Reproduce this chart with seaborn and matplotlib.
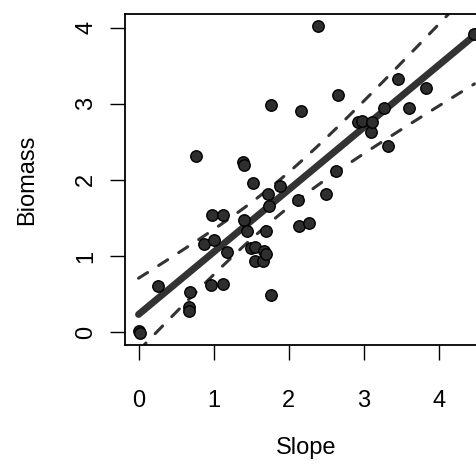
import numpy as np
import pandas as pd
import matplotlib
matplotlib.use("Agg")
import matplotlib.pyplot as plt
import seaborn as sns

# valeurs
slope = [0.00, 0.02, 0.26, 0.67, 0.67, 0.69, 0.77, 0.87, 0.96, 0.98,
         1.01, 1.12, 1.12, 1.18, 1.39, 1.40, 1.40, 1.44, 1.50, 1.52,
         1.55, 1.55, 1.66, 1.67, 1.69, 1.70, 1.72, 1.73, 1.76, 1.76,
         1.88, 2.12, 2.14, 2.16, 2.27, 2.39, 2.49, 2.63, 2.66, 2.92,
         2.98, 3.09, 3.10, 3.26, 3.32, 3.45, 3.60, 3.83, 4.47]
biomass = [0.01, -0.01, 0.60, 0.33, 0.28, 0.53, 2.31, 1.16, 0.62, 1.54,
           1.21, 1.54, 0.63, 1.05, 2.23, 2.19, 1.47, 1.33, 1.11, 1.96,
           1.12, 0.93, 0.93, 1.07, 1.33, 1.03, 1.81, 1.66, 2.98, 0.49,
           1.92, 1.74, 1.39, 2.90, 1.43, 4.02, 1.81, 2.12, 3.11, 2.76,
           2.78, 2.63, 2.76, 2.94, 2.45, 3.32, 2.94, 3.21, 3.92]
x_ticks = [0, 1, 2, 3, 4]
y_ticks = [0, 1, 2, 3, 4]

T_CRIT = 2.685  # quantile t a 99 %, ddl = 47
DARK = "#333333"


def fit_band(x, y, grid):
    """Droite des moindres carres et intervalle de confiance de la moyenne."""
    X = np.column_stack([np.ones_like(x), x])
    beta, *_ = np.linalg.lstsq(X, y, rcond=None)
    resid = y - X @ beta
    s2 = resid @ resid / (len(x) - 2)
    xbar = x.mean()
    sxx = ((x - xbar) ** 2).sum()
    fit = beta[0] + beta[1] * grid
    se = np.sqrt(s2 * (1 / len(x) + (grid - xbar) ** 2 / sxx))
    return fit, fit - T_CRIT * se, fit + T_CRIT * se


def main():
    sns.set_style("white")
    plt.rcParams["font.family"] = ["Liberation Sans", "DejaVu Sans"]
    plt.rcParams["text.color"] = "black"
    plt.rcParams["axes.labelcolor"] = "black"
    plt.rcParams["xtick.color"] = "black"
    plt.rcParams["ytick.color"] = "black"

    df = pd.DataFrame({"Slope": slope, "Biomass": biomass})
    x = df["Slope"].to_numpy()
    y = df["Biomass"].to_numpy()
    grid = np.linspace(x.min(), x.max(), 100)
    fit, lo, hi = fit_band(x, y, grid)
    band = pd.DataFrame({"x": grid, "fit": fit, "lo": lo, "hi": hi})

    fig = plt.figure(figsize=(4.77, 4.69), dpi=100)
    ax = fig.add_axes([125 / 477, 1 - 345 / 469, 363 / 477, 331 / 469])

    dash = (0, (3.5, 4.3))
    for col in ["lo", "hi"]:
        sns.lineplot(data=band, x="x", y=col, ax=ax, color=DARK, lw=2.2,
                     linestyle=dash, dash_capstyle="round")
    sns.lineplot(data=band, x="x", y="fit", ax=ax, color=DARK, lw=5,
                 solid_capstyle="round")
    sns.scatterplot(data=df, x="Slope", y="Biomass", ax=ax, s=68,
                    color="#2e2e2e", edgecolor="black", linewidth=1, zorder=3)

    ax.set_xlim(-0.18, 4.65)
    ax.set_ylim(-0.17, 4.18)
    ax.set_xticks(x_ticks)
    ax.set_yticks(y_ticks)
    ax.tick_params(axis="both", which="major", length=10.5, width=1,
                   color="black", labelcolor="black", labelsize=17,
                   direction="out", bottom=True, left=True)
    ax.tick_params(axis="x", pad=22)
    ax.tick_params(axis="y", pad=9.5)
    for lab in ax.get_yticklabels():
        lab.set_rotation(90)
        lab.set_va("center")

    for sp in ax.spines.values():
        sp.set_color("black")
        sp.set_linewidth(1.3)

    ax.set_xlabel("Slope", fontsize=17, color="black")
    ax.set_ylabel("Biomass", fontsize=17, color="black")
    ax.xaxis.set_label_coords(0.5, -0.278)
    ax.yaxis.set_label_coords(-0.24, 0.5)

    fig.savefig("out.png", dpi=100)
    plt.close(fig)


if __name__ == "__main__":
    main()
